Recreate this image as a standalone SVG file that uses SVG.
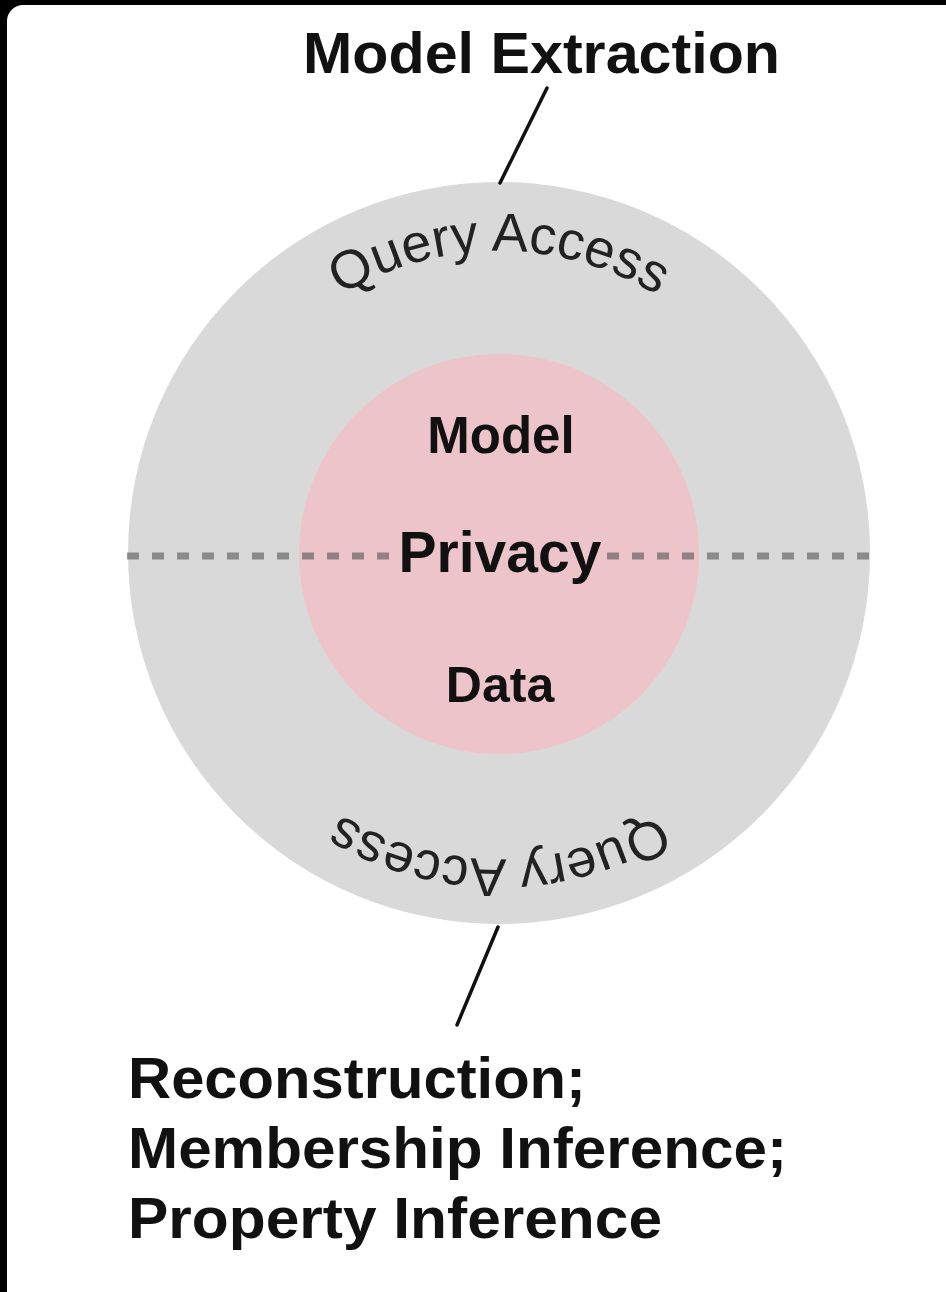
<svg xmlns="http://www.w3.org/2000/svg" width="946" height="1292" viewBox="0 0 946 1292">
  <style>
    .lbl { font-family: "Liberation Sans", Arial, sans-serif; font-weight: bold; fill: #111; }
    .arc { font-family: "Liberation Sans", Arial, sans-serif; font-weight: normal; fill: #222; font-size: 54px; }
    .conn { stroke: #111; stroke-width: 3.5; stroke-linecap: round; fill: none; }
    .dash { stroke: #555; stroke-opacity: 0.6; stroke-width: 7; stroke-dasharray: 12 13; fill: none; }
  </style>
  <defs>
    <path id="topArc" d="M 195 555 A 304 304 0 0 1 803 555"/>
  </defs>
  <rect x="0" y="0" width="946" height="1292" fill="#000"/>
  <rect x="7" y="5" width="980" height="1320" rx="16" fill="#fff"/>

  <g id="outer-ring">
    <circle cx="499" cy="553" r="371" fill="#d9d9d9"/>
    <text class="arc" text-anchor="middle"><textPath href="#topArc" startOffset="50%">Query Access</textPath></text>
    <g transform="rotate(180 499 555)">
      <text class="arc" text-anchor="middle"><textPath href="#topArc" startOffset="50%">Query Access</textPath></text>
    </g>
  </g>

  <g id="core">
    <circle cx="499" cy="554" r="200" fill="#edc4ca"/>
  </g>

  <g id="divider">
    <line class="dash" x1="127" y1="556" x2="393" y2="556"/>
    <line class="dash" x1="607" y1="556" x2="871" y2="556"/>
  </g>

  <g id="core-labels">
    <text class="lbl" x="501" y="453" font-size="51" text-anchor="middle">Model</text>
    <text class="lbl" x="500" y="572" font-size="57" text-anchor="middle">Privacy</text>
    <text class="lbl" x="500" y="702" font-size="50" text-anchor="middle">Data</text>
  </g>

  <g id="model-extraction">
    <text class="lbl" x="303" y="73" font-size="58" textLength="477" lengthAdjust="spacingAndGlyphs">Model Extraction</text>
  </g>

  <g id="data-attacks">
    <text class="lbl" x="128" y="1098" font-size="58" textLength="458" lengthAdjust="spacingAndGlyphs">Reconstruction;</text>
    <text class="lbl" x="128" y="1168" font-size="58" textLength="659" lengthAdjust="spacingAndGlyphs">Membership Inference;</text>
    <text class="lbl" x="128" y="1238" font-size="58" textLength="534" lengthAdjust="spacingAndGlyphs">Property Inference</text>
  </g>

  <g id="connectors">
    <line class="conn" x1="547" y1="88" x2="500" y2="183"/>
    <line class="conn" x1="498" y1="927" x2="457" y2="1025"/>
  </g>
</svg>
